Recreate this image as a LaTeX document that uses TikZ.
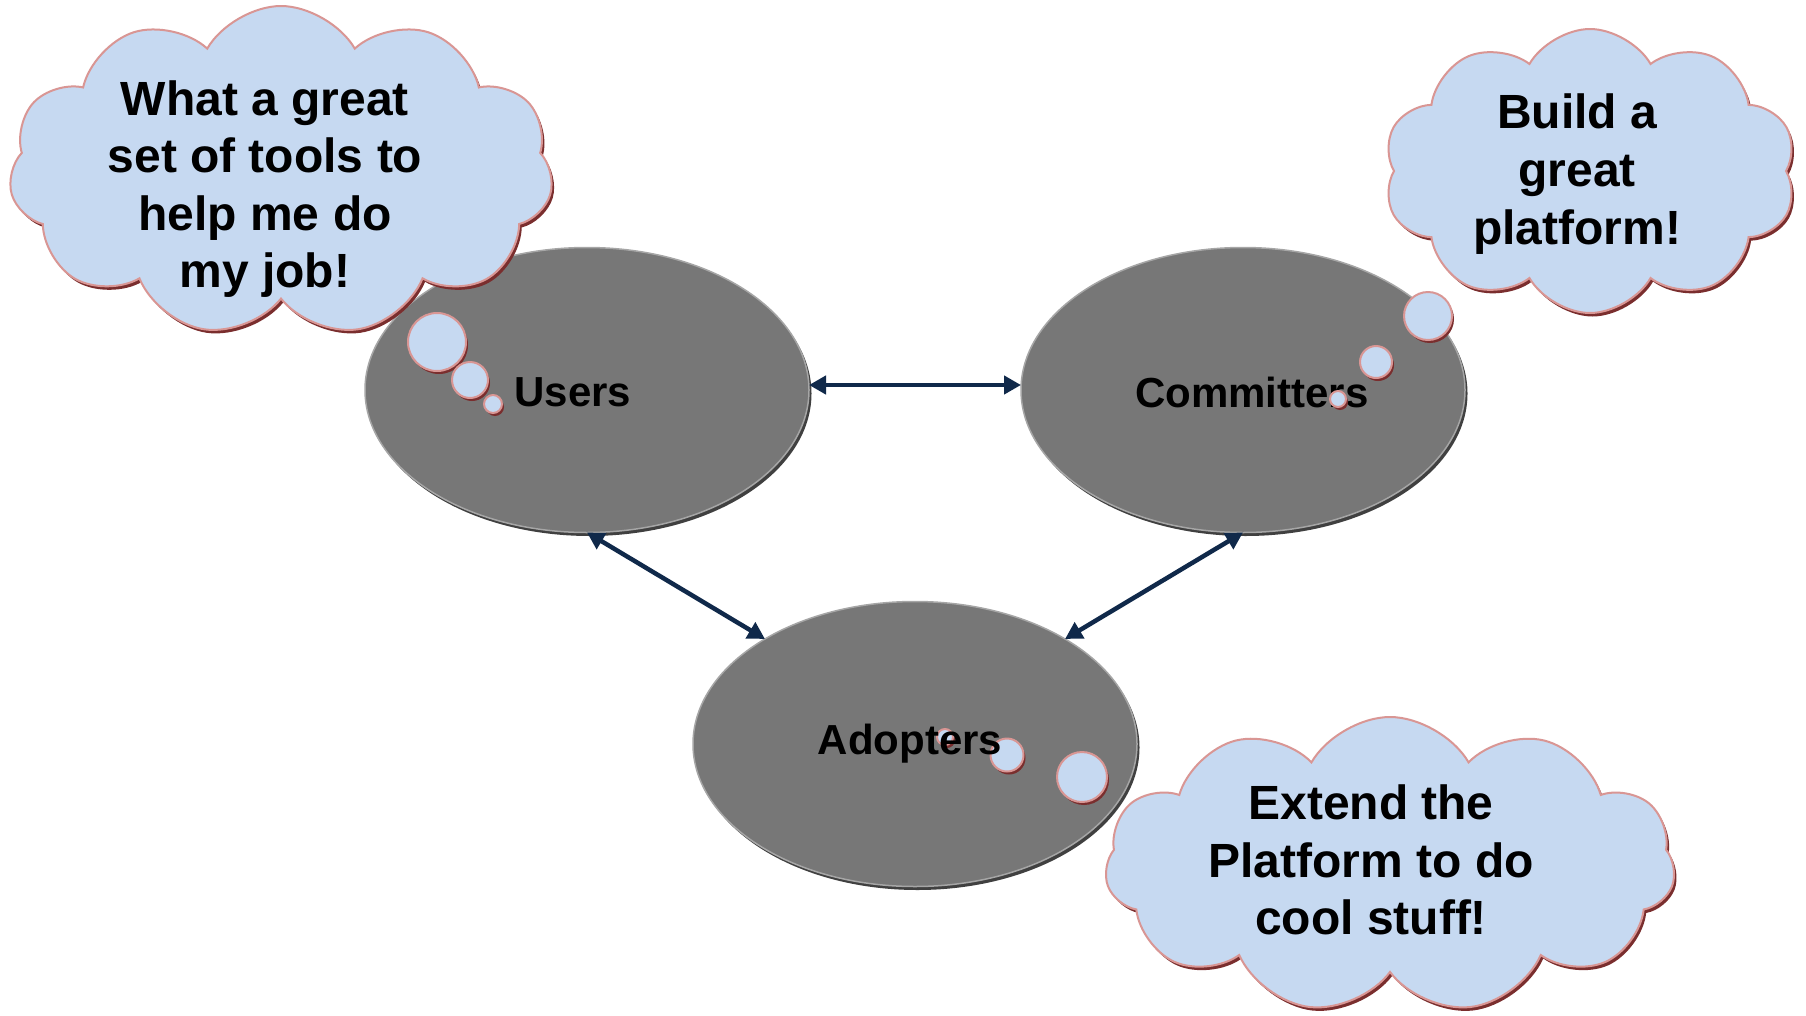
\documentclass[tikz,border=0pt]{standalone}
\usepackage{fontspec}
\setmainfont{Liberation Sans}
\usetikzlibrary{shapes.geometric,shapes.symbols,arrows.meta,shadows}
\definecolor{cloudfill}{HTML}{C6D9F1}
\definecolor{cloudedge}{HTML}{D99694}
\definecolor{cloudshade}{HTML}{7A2E2E}
\definecolor{ovalfill}{HTML}{777777}
\definecolor{ovaledge}{HTML}{A6A6A6}
\definecolor{ovalshade}{HTML}{404040}
\definecolor{arrowblue}{HTML}{10294A}
\begin{document}
\begin{tikzpicture}[x=1pt,y=-1pt,
 oval/.style={ellipse, minimum width=444pt, minimum height=285pt, fill=ovalfill, draw=ovaledge, line width=1.5pt,
   general shadow={fill=ovalshade, shadow xshift=2.5pt, shadow yshift=-3.5pt}, inner sep=0pt, outer sep=0pt},
 ovaltext/.style={font=\fontsize{42}{50}\selectfont\bfseries},
 thought/.style={cloud, cloud puffs=11, cloud puff arc=120, cloud ignores aspect, fill=cloudfill, draw=cloudedge, line width=2pt,
   general shadow={fill=cloudshade, shadow xshift=2.5pt, shadow yshift=-3.5pt}, inner sep=0pt},
 bubble/.style={circle, fill=cloudfill, draw=cloudedge, line width=2pt,
   general shadow={fill=cloudshade, shadow xshift=2pt, shadow yshift=-3pt}, inner sep=0pt},
 words/.style={align=center, font=\fontsize{48}{57.6}\selectfont\bfseries},
 link/.style={draw=arrowblue, line width=4.5pt, {Triangle[length=17pt,width=18pt]}-{Triangle[length=17pt,width=18pt]}}
]
\useasboundingbox[fill=white] (0,0) rectangle (1806,1015);
% ovals
\node[oval] (users) at (587,390) {};
\node[oval] (committers) at (1243,390) {};
\node[oval] (adopters) at (915,744) {};
% bubbles under adopters label
\node[bubble, minimum size=16pt] (ab3) at (945,737) {};
\node[bubble, minimum size=33pt] (ab2) at (1007,755) {};
\node[bubble, minimum size=50pt] (ab1) at (1082,777) {};
% labels
\node[ovaltext] (userslabel) at (573,392) {Users};
\node[ovaltext] (committerslabel) at (1252,392) {Committers};
\node[ovaltext] (adopterslabel) at (910,744) {Adopters};
% connectors
\draw[link] ([yshift=5pt]users.east) -- ([yshift=5pt]committers.west);
\draw[link] (users.south) -- (adopters.145);
\draw[link] (committers.south) -- (adopters.35);
% clouds
\node[thought, minimum width=544pt, minimum height=330pt] (cloudusers) at (281,171) {};
\node[words] (textusers) at (265,189) {What a great\\set of tools to\\help me do\\my job!};
\node[thought, cloud puffs=10, minimum width=413pt, minimum height=284pt] (cloudcomm) at (1590,171) {};
\node[words] (textcomm) at (1577,174) {Build a\\great\\platform!};
\node[thought, minimum width=570pt, minimum height=296pt] (cloudadopt) at (1390,865) {};
\node[words] (textadopt) at (1371,860) {Extend the\\Platform to do\\cool stuff!};
% thought bubbles
\node[bubble, minimum size=58pt] (ub1) at (437,342) {};
\node[bubble, minimum size=36pt] (ub2) at (470,380) {};
\node[bubble, minimum size=18pt] (ub3) at (493,404) {};
\node[bubble, minimum size=48pt] (cb1) at (1428,316) {};
\node[bubble, minimum size=32pt] (cb2) at (1376,362) {};
\node[bubble, minimum size=16pt] (cb3) at (1338,399) {};
\end{tikzpicture}
\end{document}
